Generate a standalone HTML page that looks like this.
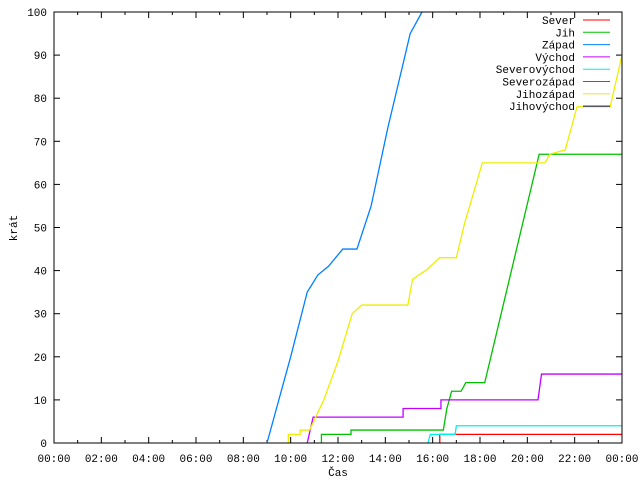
<!DOCTYPE html>
<html><head><meta charset="utf-8"><style>
body{margin:0;background:#fff}
svg text{font-family:"Liberation Mono","DejaVu Sans Mono",monospace;font-size:11px;fill:#000}
</style></head><body>
<svg id="c" width="640" height="480" xmlns="http://www.w3.org/2000/svg">
<rect x="0" y="0" width="640" height="480" fill="#fff"/>
<g id="grid"></g><g id="series"></g>
<rect x="54" y="12" width="568" height="431" fill="none" stroke="#000"/>
<text x="338" y="476" text-anchor="middle">Čas</text>
<text transform="translate(17,228) rotate(-90)" text-anchor="middle">krát</text>
<g id="legend"></g>
</svg>
<script>
const xTicks=["00:00","02:00","04:00","06:00","08:00","10:00","12:00","14:00","16:00","18:00","20:00","22:00","00:00"];
const yTicks=[0,10,20,30,40,50,60,70,80,90,100];
const names=["Sever","Jih","Západ","Východ","Severovýchod","Severozápad","Jihozápad","Jihovýchod"];
const colors=["#ff0000","#00c000","#0080ff","#c000ff","#00eeee","#c04000","#eeee00","#0000a0"];
const severH=[16.3,16.3,24], severV=[0,2,2];
const jihH=[11.3,11.3,12.55,12.55,16.45,16.6,16.8,17.2,17.4,18.2,20.5,24], jihV=[0,2,2,3,3,8,12,12,14,14,67,67];
const zapadH=[9.0,10.0,10.7,11.15,11.6,12.2,12.8,13.4,14.1,14.75,15.05,15.55], zapadV=[0,20,35,39,41,45,45,55,73,88,95,100];
const vychodH=[10.7,10.95,10.95,14.75,14.75,16.35,16.35,20.45,20.6,24], vychodV=[0,6,6,6,8,8,10,10,16,16];
const svH=[15.8,15.9,16.95,17.0,24], svV=[0,2,2,4,4];
const jzH=[9.9,9.9,10.4,10.4,10.8,11.4,12.0,12.6,13.0,14.95,15.15,15.7,16.3,17.0,17.35,18.1,20.75,20.95,21.6,22.1,23.5,24], jzV=[0,2,2,3,3,10,19,30,32,32,38,40,43,43,51,65,65,67,68,78,78,90];
const X=h=>54+h*568/24, Y=v=>443-v*431/100;
const ns="http://www.w3.org/2000/svg";
const g=document.getElementById('grid');
function mk(t,a,p){const e=document.createElementNS(ns,t);for(const k in a)e.setAttribute(k,a[k]);p.appendChild(e);return e;}
xTicks.forEach((t,i)=>{const x=X(i*2);
 const l=mk('line',{x1:x,x2:x,y1:443,y2:437,stroke:'#000'},g);
 mk('line',{x1:x,x2:x,y1:12,y2:18,stroke:'#000'},g);
 if(i<12){mk('line',{x1:X(i*2+1),x2:X(i*2+1),y1:443,y2:440,stroke:'#000'},g);mk('line',{x1:X(i*2+1),x2:X(i*2+1),y1:12,y2:15,stroke:'#000'},g);}
 const tx=mk('text',{x:x,y:462,'text-anchor':'middle'},g);tx.textContent=t;});
yTicks.forEach(v=>{const y=Y(v);
 mk('line',{x1:54,x2:60,y1:y,y2:y,stroke:'#000'},g);mk('line',{x1:616,x2:622,y1:y,y2:y,stroke:'#000'},g);
 const tx=mk('text',{x:47,y:y+4,'text-anchor':'end'},g);tx.textContent=v;});
const s=document.getElementById('series');
const data=[[severH,severV],[jihH,jihV],[zapadH,zapadV],[vychodH,vychodV],[svH,svV],null,[jzH,jzV],null];
data.forEach((d,i)=>{if(!d)return;
 const p=mk('polyline',{points:d[0].map((h,j)=>X(h)+','+Y(d[1][j])).join(' '),fill:'none',stroke:colors[i],'stroke-width':1.3},s);
 });
const lg=document.getElementById('legend');
names.forEach((n,i)=>{const y=24+i*12.3;
 const t=mk('text',{x:575,y:y,'text-anchor':'end'},lg);t.textContent=n;
 mk('line',{x1:583,x2:610,y1:y-4,y2:y-4,stroke:colors[i]},lg);});
</script>
</body></html>
